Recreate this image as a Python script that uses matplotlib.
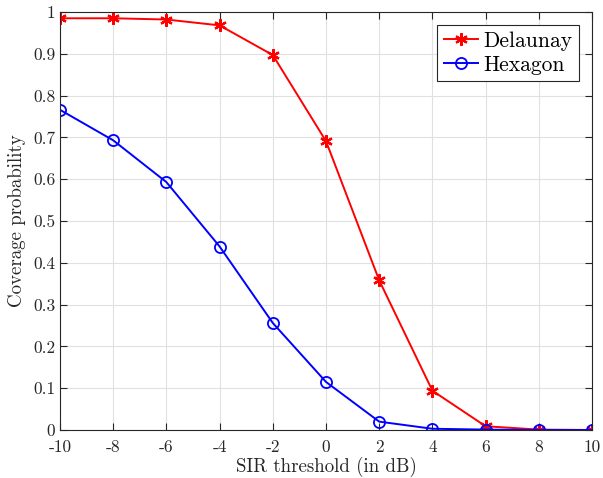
import matplotlib
matplotlib.use("Agg")
from matplotlib import pyplot as plt
import numpy as np

plt.rcParams['font.family'] = ['cmr10', 'DejaVu Serif']
plt.rcParams['axes.unicode_minus'] = False
plt.rcParams['mathtext.fontset'] = 'cm'

sir_db = [-10, -8, -6, -4, -2, 0, 2, 4, 6, 8, 10]
delaunay = [0.985, 0.985, 0.982, 0.968, 0.897, 0.691, 0.358, 0.094, 0.009, 0.001, 0.0]
hexagon = [0.766, 0.693, 0.593, 0.439, 0.256, 0.115, 0.020, 0.003, 0.001, 0.0, 0.0]

fig = plt.figure(figsize=(6.03, 4.78), dpi=100)
ax = fig.add_axes([0.0995, 0.1004, 0.8823, 0.8745])

ax.plot(sir_db, delaunay, color='red', marker=(6, 2, 0), markersize=9, lw=1.4,
        markeredgewidth=1.6, label='Delaunay')
ax.plot(sir_db, hexagon, color='blue', marker='o', markersize=8, lw=1.4,
        markerfacecolor='none', markeredgewidth=1.3, label='Hexagon')

ax.set_xlim(-10, 10)
ax.set_ylim(0, 1)
ax.set_xticks(np.arange(-10, 11, 2))
ax.set_xticklabels([str(v) for v in range(-10, 11, 2)])
yt = np.round(np.arange(0, 1.01, 0.1), 1)
ax.set_yticks(yt)
ax.set_yticklabels(['0'] + ['%.1f' % v for v in yt[1:-1]] + ['1'])
ax.tick_params(direction='in', top=True, right=True, labelsize=12.5,
               color='0.15', labelcolor='0.15', length=5)
ax.tick_params(axis='x', pad=7)
ax.grid(True, color='0.88', lw=0.8)
ax.set_axisbelow(True)
for s in ax.spines.values():
    s.set_color('0.15')
    s.set_linewidth(0.8)

ax.set_xlabel('SIR threshold (in dB)', fontsize=13.6, color='0.15', labelpad=1)
ax.set_ylabel('Coverage probability', fontsize=13.6, color='0.15', labelpad=5)
leg = ax.legend(loc='upper right', fontsize=15.5, fancybox=False, framealpha=1,
                edgecolor='0.15', borderpad=0.3, handlelength=1.6,
                handletextpad=0.25, labelspacing=0.2, borderaxespad=0.6)
leg.get_frame().set_linewidth(0.8)

plt.savefig('out.png', dpi=100)
